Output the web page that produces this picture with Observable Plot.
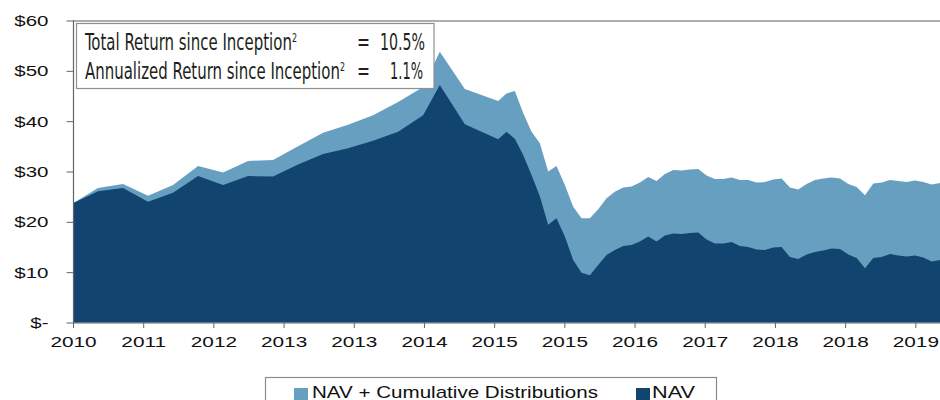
<!DOCTYPE html>
<html><head><meta charset="utf-8">
<script src="https://cdn.jsdelivr.net/npm/d3@7"></script>
<script src="https://cdn.jsdelivr.net/npm/@observablehq/plot@0.6"></script>
<style>
body{margin:0;background:#fff;}
#wrap{position:relative;width:940px;height:400px;overflow:hidden;}
#wrap svg{display:block;}
</style></head><body><div id="wrap"></div>
<script>
// months since first observation
const months = [0,3,6,9,12,15,18,21,24,27,30,33,36,39,42,44,47,51,52,53,
 54,55,56,57,58,59,60,61,62,63,64,65,66,67,68,69,70,71,72,73,74,75,76,77,78,79,
 80,81,82,83,84,85,86,87,88,89,90,91,92,93,94,95,96,97,98,99,100,101,102,103,104];
const navPlusDistributions = [23.7,26.7,27.5,25.2,27.3,31.1,29.8,32.1,32.3,35.0,37.7,39.3,41.2,43.8,46.8,53.8,46.4,44.0,45.5,46.0,
 41.6,37.9,35.6,30.0,31.1,27.3,23.0,20.7,20.7,22.5,24.7,26.0,26.8,27.0,27.8,28.9,28.1,29.5,30.3,30.2,30.4,30.5,29.2,28.5,28.5,28.8,
 28.3,28.3,27.8,27.9,28.4,28.6,26.8,26.4,27.5,28.3,28.6,28.8,28.6,27.5,26.9,25.3,27.6,27.8,28.3,28.1,27.9,28.2,27.9,27.4,27.7];
const navValues = [23.7,26.1,26.7,24.0,25.8,29.1,27.3,29.1,29.0,31.4,33.5,34.6,36.1,37.9,41.2,47.2,39.4,36.4,37.9,36.5,
 33.3,29.3,25.1,19.4,20.7,17.1,12.4,9.9,9.4,11.4,13.4,14.4,15.2,15.4,16.1,17.1,16.1,17.3,17.7,17.6,17.8,17.9,16.5,15.7,15.7,16.0,
 15.2,15.0,14.5,14.4,14.9,15.0,13.0,12.6,13.5,14.0,14.3,14.7,14.6,13.5,12.8,10.8,12.8,13.0,13.6,13.3,13.1,13.3,12.9,12.1,12.4];
const tickLabels = ["2010","2011","2012","2013","2013","2014","2015","2015","2016","2017","2018","2018","2019"];
const yTicks = [0,10,20,30,40,50,60];
const seriesNames = ["NAV + Cumulative Distributions","NAV"];
const seriesColors = ["#679FC1","#11456F"];
const statLabels = ["Total Return since Inception","Annualized Return since Inception"];
const statNote = "2";
const statValues = ["10.5%","1.1%"];

const tickStep = 8.42; // months between axis ticks
const data = months.map((m,i)=>({m, total: navPlusDistributions[i], nav: navValues[i]}));

const W = 940, H = 360;
const axisColor = "#5e666b";
const chart = Plot.plot({
  width: W, height: H,
  marginLeft: 73, marginRight: 0, marginTop: 20.5, marginBottom: H - 322.5,
  style: {fontFamily: "'Liberation Sans', Arial, sans-serif", fontSize: "15.5px", color: "#111", background: "#fff"},
  x: {domain: [0, 104]},
  y: {domain: [0, 60]},
  marks: [
    Plot.areaY(data, {x: "m", y: "total", fill: seriesColors[0]}),
    Plot.areaY(data, {x: "m", y: "nav", fill: seriesColors[1]}),
    Plot.ruleY([60], {stroke: "#8d9696", strokeWidth: 1.4}),
    Plot.ruleY([0], {stroke: axisColor, strokeWidth: 1.2}),
    Plot.ruleX([0], {stroke: axisColor, strokeWidth: 1.2}),
    Plot.axisY({ticks: yTicks, tickFormat: d => d === 0 ? "$-" : "$" + d, tickSize: 6.5, tickPadding: 18.5,
      stroke: axisColor, fill: "#111", fontSize: 15.5, label: null}),
    Plot.axisX({ticks: tickLabels.map((_, i) => i * tickStep), tickFormat: d => tickLabels[Math.round(d / tickStep)],
      tickSize: 5.5, tickPadding: 7, stroke: axisColor, fill: "#111", fontSize: 15.5, label: null})
  ]
});

const wrap = document.getElementById("wrap");
wrap.appendChild(chart);

// stretch tick labels horizontally like the original (keeps anchor positions)
function stretch(sel, s) {
  chart.querySelectorAll(sel).forEach(t => {
    const w = t.getComputedTextLength();
    if (w > 0) {
      t.setAttribute("textLength", (w * s).toFixed(1));
      t.setAttribute("lengthAdjust", "spacingAndGlyphs");
    }
  });
}
stretch('g[aria-label="x-axis tick label"] text', 1.34);
stretch('g[aria-label="y-axis tick label"] text', 1.32);

// statistics box
const svg = d3.select(chart);
const box = svg.append("g")
  .attr("font-family", "'Liberation Sans Narrow','DejaVu Sans Condensed','Liberation Sans',sans-serif")
  .attr("fill", "#231f20").attr("text-anchor", "start");
box.append("rect").attr("x", 76.5).attr("y", 23.5).attr("width", 357.5).attr("height", 65)
  .attr("fill", "#fff").attr("stroke", "#8f8f8f").attr("stroke-width", 1.2);
const rows = [{y: 50, w: 212}, {y: 78.5, w: 260}];
const valueRight = [425, 423], valueWidth = [45, 33];
rows.forEach((r, i) => {
  const t = box.append("text").attr("x", 85).attr("y", r.y).attr("font-size", 22.5)
    .attr("textLength", r.w).attr("lengthAdjust", "spacingAndGlyphs").attr("text-anchor", "start");
  t.append("tspan").text(statLabels[i]);
  t.append("tspan").attr("dy", -8).attr("font-size", 12).text(statNote);
  box.append("text").attr("x", 357).attr("y", r.y).attr("font-size", 22.5).attr("textLength", 13)
    .attr("lengthAdjust", "spacingAndGlyphs").attr("text-anchor", "start").text("=");
  box.append("text").attr("x", valueRight[i]).attr("y", r.y).attr("font-size", 22.5).attr("text-anchor", "end")
    .attr("textLength", valueWidth[i]).attr("lengthAdjust", "spacingAndGlyphs").text(statValues[i]);
});

// legend below the chart
const leg = d3.select(wrap).append("svg").attr("width", W).attr("height", 40)
  .attr("font-family", "'Liberation Sans', Arial, sans-serif");
leg.append("rect").attr("x", 265.5).attr("y", 17.5).attr("width", 451).attr("height", 32)
  .attr("fill", "#fff").attr("stroke", "#8a8a8a").attr("stroke-width", 1.2);
const items = [{sx: 294, tx: 312, tw: 286}, {sx: 636, tx: 652, tw: 43}];
items.forEach((it, i) => {
  leg.append("rect").attr("x", it.sx).attr("y", 28).attr("width", 14).attr("height", 13).attr("fill", seriesColors[i]);
  leg.append("text").attr("x", it.tx).attr("y", 38).attr("font-size", 17).attr("fill", "#111")
    .attr("textLength", it.tw).attr("lengthAdjust", "spacingAndGlyphs").text(seriesNames[i]);
});
</script></body></html>
